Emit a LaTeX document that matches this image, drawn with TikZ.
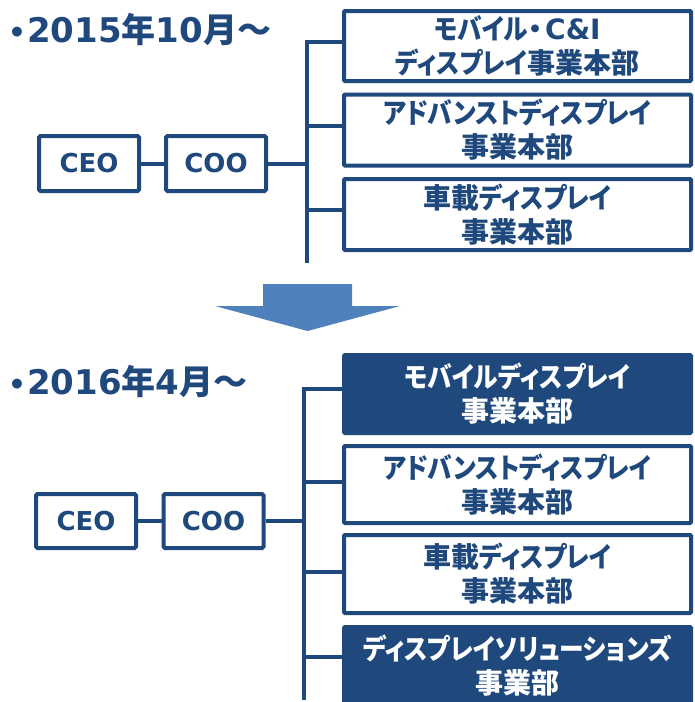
\documentclass[tikz,border=0pt]{standalone}
\usepackage{fontspec}
\setmainfont{DejaVu Sans}
\newfontfamily\jpfont{Noto Sans CJK JP}[RawFeature=+palt]
\newfontfamily\kanafont{Noto Sans CJK JP}[RawFeature=+palt, FakeStretch=0.88]
\newcommand\jp[1]{{\jpfont\bfseries #1}}
\newcommand\kana[1]{{\kanafont\bfseries #1}}
\newcommand\bulletmark{{\fontsize{28pt}{30pt}\selectfont •}}
\definecolor{dblue}{HTML}{1F497D}
\definecolor{ablue}{HTML}{4F81BD}
\newcommand\boxfont{\bfseries\fontsize{28pt}{34pt}\selectfont}
\newcommand\headfont{\bfseries\fontsize{26pt}{34pt}\selectfont}
\newcommand\titlefont{\bfseries\fontsize{34pt}{40pt}\selectfont}
\tikzset{
  unitbox/.style={draw=dblue, line width=4pt, fill=white, minimum width=347pt,
    text=dblue, font=\boxfont, align=center, inner sep=0pt, rounded corners=1pt},
  darkbox/.style={unitbox, fill=dblue, text=white},
  headbox/.style={draw=dblue, line width=4pt, fill=white, minimum width=100pt,
    minimum height=55pt, text=dblue, font=\headfont, inner sep=0pt, rounded corners=1.5pt},
  conn/.style={draw=dblue, line width=4pt},
  titletext/.style={anchor=base west, text=dblue, font=\titlefont, inner sep=0pt}
}
\begin{document}
\begin{tikzpicture}[x=1pt,y=-1pt]
\useasboundingbox (0,0) rectangle (695,702);

% ---------- top section ----------
\node[titletext] (t1) at (8,42) {\bulletmark\hspace{1pt}2015\jp{年}10\jp{月～}};
\node[unitbox, minimum height=70pt] (a1) at (517.5,46) {\kana{モバイル}\jp{・}\hspace{3pt}C\&I\\\kana{ディスプレイ}\jp{事業本部}};
\node[unitbox, minimum height=71pt] (a2) at (517.5,130) {\kana{アドバンストディスプレイ}\\\jp{事業本部}};
\node[unitbox, minimum height=71pt] (a3) at (517.5,214.5) {\jp{車載}\kana{ディスプレイ}\\\jp{事業本部}};
\node[headbox] (ceo1) at (89,163.5) {CEO};
\node[headbox] (coo1) at (216,163.5) {COO};
\coordinate (v1) at (307,263);
\draw[conn] (v1) |- ([yshift=4pt]a1.west);
\draw[conn] ([yshift=4.5pt]a2.west) -- ([yshift=4.5pt]a2.west -| v1);
\draw[conn] ([yshift=4.5pt]a3.west) -- ([yshift=4.5pt]a3.west -| v1);
\draw[conn] (ceo1) -- (coo1);
\draw[conn] (coo1.east) -- (coo1.east -| v1);

% ---------- arrow ----------
\fill[ablue] (263,284) -- (352,284) -- (352,306) -- (400,306) -- (307.5,331)
  -- (215,306) -- (263,306) -- cycle;

% ---------- bottom section ----------
\node[titletext] (t2) at (8,394) {\bulletmark\hspace{1pt}2016\jp{年}4\jp{月～}};
\node[darkbox, minimum height=78pt] (b1) at (517.5,394) {\kana{モバイルディスプレイ}\\\jp{事業本部}};
\node[unitbox, minimum height=77pt] (b2) at (517.5,484.5) {\kana{アドバンストディスプレイ}\\\jp{事業本部}};
\node[unitbox, minimum height=78pt] (b3) at (517.5,574) {\jp{車載}\kana{ディスプレイ}\\\jp{事業本部}};
\node[darkbox, minimum height=78pt] (b4) at (517.5,666) {\kana{ディスプレイソリューションズ}\\\jp{事業部}};
\node[headbox, minimum height=54pt] (ceo2) at (86,521) {CEO};
\node[headbox, minimum height=54pt] (coo2) at (213.5,521) {COO};
\coordinate (v2) at (303.5,700);
\draw[conn] (v2) |- ([yshift=5pt]b1.west);
\draw[conn] ([yshift=2.5pt]b2.west) -- ([yshift=2.5pt]b2.west -| v2);
\draw[conn] ([yshift=2pt]b3.west) -- ([yshift=2pt]b3.west -| v2);
\draw[conn] ([yshift=9pt]b4.west) -- ([yshift=9pt]b4.west -| v2);
\draw[conn] (ceo2) -- (coo2);
\draw[conn] (coo2.east) -- (coo2.east -| v2);
\end{tikzpicture}
\end{document}
